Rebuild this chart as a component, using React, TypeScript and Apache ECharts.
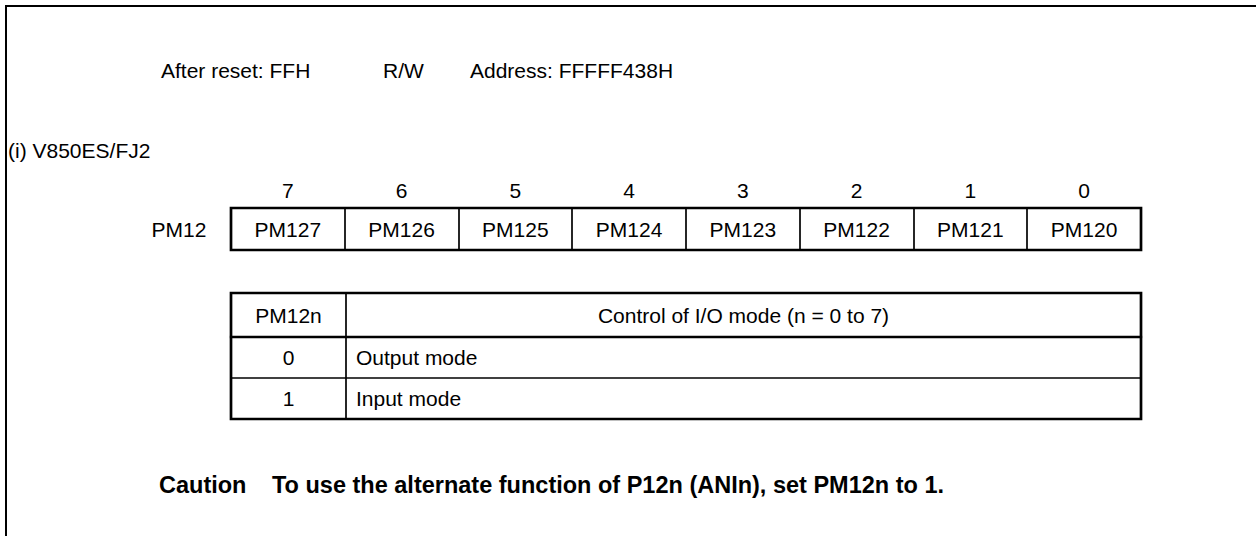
import React, { useEffect, useRef } from "react";
import * as echarts from "echarts";

// ---- Content ----
const headerTexts = ["After reset: FFH", "R/W", "Address: FFFFF438H"];
const subtitle = "(i) V850ES/FJ2";
const registerName = "PM12";
const bitNumbers = ["7", "6", "5", "4", "3", "2", "1", "0"];
const bitNames = ["PM127", "PM126", "PM125", "PM124", "PM123", "PM122", "PM121", "PM120"];
const tableHeader = ["PM12n", "Control of I/O mode (n = 0 to 7)"];
const settingValues = ["0", "1"];
const settingDescriptions = ["Output mode", "Input mode"];
const cautionLabel = "Caution";
const cautionText = "To use the alternate function of P12n (ANIn), set PM12n to 1.";

// ---- Layout ----
const W = 1256;
const H = 536;
const FONT = '"Liberation Sans", Arial, Helvetica, sans-serif';
const FS = 21;
const FS_BOLD = 23.5;
const headerX = [161, 383, 470];
const headerY = 70;
const subtitleX = 8;
const subtitleY = 150;
const regLeft = 231;
const regRight = 1141;
const regTop = 208;
const regBottom = 250;
const bitNumY = 190;
const regNameX = 179;
const tblTop = 293;
const tblCol = 346;
const tblRows = [293, 337, 378, 419];
const cautionY = 485;
const cautionLabelX = 159;
const cautionTextX = 272;

function txt(text: string, x: number, y: number, align: string = "left", bold = false, size = FS) {
  return {
    type: "text",
    silent: true,
    style: {
      text,
      x,
      y,
      align,
      verticalAlign: "middle",
      fill: "#000",
      font: `${bold ? "bold " : ""}${size}px ${FONT}`,
    },
  };
}

function ln(x1: number, y1: number, x2: number, y2: number, w: number) {
  return {
    type: "line",
    silent: true,
    shape: { x1, y1, x2, y2 },
    style: { stroke: "#000", lineWidth: w, lineCap: "square" },
  };
}

function buildGraphic() {
  const els: any[] = [];
  // outer frame (top + left)
  els.push(ln(6, 6, W + 5, 6, 2));
  els.push(ln(6, 6, 6, H + 5, 2));

  headerTexts.forEach((t, i) => els.push(txt(t, headerX[i], headerY)));
  els.push(txt(subtitle, subtitleX, subtitleY));

  // register
  const cw = (regRight - regLeft) / bitNames.length;
  bitNumbers.forEach((b, i) => els.push(txt(b, regLeft + cw * (i + 0.5), bitNumY, "center")));
  els.push(txt(registerName, regNameX, (regTop + regBottom) / 2, "center"));
  for (let i = 1; i < bitNames.length; i++) {
    const x = Math.round(regLeft + cw * i);
    els.push(ln(x, regTop, x, regBottom, 1.7));
  }
  els.push({
    type: "rect",
    silent: true,
    shape: { x: regLeft, y: regTop, width: regRight - regLeft, height: regBottom - regTop },
    style: { fill: "none", stroke: "#000", lineWidth: 2.7 },
  });
  bitNames.forEach((n, i) =>
    els.push(txt(n, regLeft + cw * (i + 0.5), (regTop + regBottom) / 2, "center"))
  );

  // table
  const tblBottom = tblRows[tblRows.length - 1];
  els.push(ln(tblCol, tblTop, tblCol, tblBottom, 1.7));
  els.push(ln(regLeft, tblRows[1], regRight, tblRows[1], 2.3));
  for (let r = 2; r < tblRows.length - 1; r++) {
    els.push(ln(regLeft, tblRows[r], regRight, tblRows[r], 1.7));
  }
  els.push({
    type: "rect",
    silent: true,
    shape: { x: regLeft, y: tblTop, width: regRight - regLeft, height: tblBottom - tblTop },
    style: { fill: "none", stroke: "#000", lineWidth: 2.7 },
  });
  const hy = (tblRows[0] + tblRows[1]) / 2;
  els.push(txt(tableHeader[0], (regLeft + tblCol) / 2, hy, "center"));
  els.push(txt(tableHeader[1], (tblCol + regRight) / 2, hy, "center"));
  settingValues.forEach((v, i) => {
    const y = (tblRows[i + 1] + tblRows[i + 2]) / 2;
    els.push(txt(v, (regLeft + tblCol) / 2, y, "center"));
    els.push(txt(settingDescriptions[i], tblCol + 10, y));
  });

  // caution
  els.push(txt(cautionLabel, cautionLabelX, cautionY, "left", true, FS_BOLD));
  els.push(txt(cautionText, cautionTextX, cautionY, "left", true, FS_BOLD));
  return els;
}

export default function App() {
  const ref = useRef<HTMLDivElement>(null);
  useEffect(() => {
    if (!ref.current) return;
    const chart = echarts.init(ref.current, undefined, { renderer: "svg", width: W, height: H });
    chart.setOption({
      animation: false,
      backgroundColor: "#fff",
      graphic: { elements: buildGraphic() },
    });
    return () => chart.dispose();
  }, []);
  return (
    <div
      ref={ref}
      style={{ position: "fixed", left: 0, top: 0, width: W, height: H, background: "#fff" }}
    />
  );
}
